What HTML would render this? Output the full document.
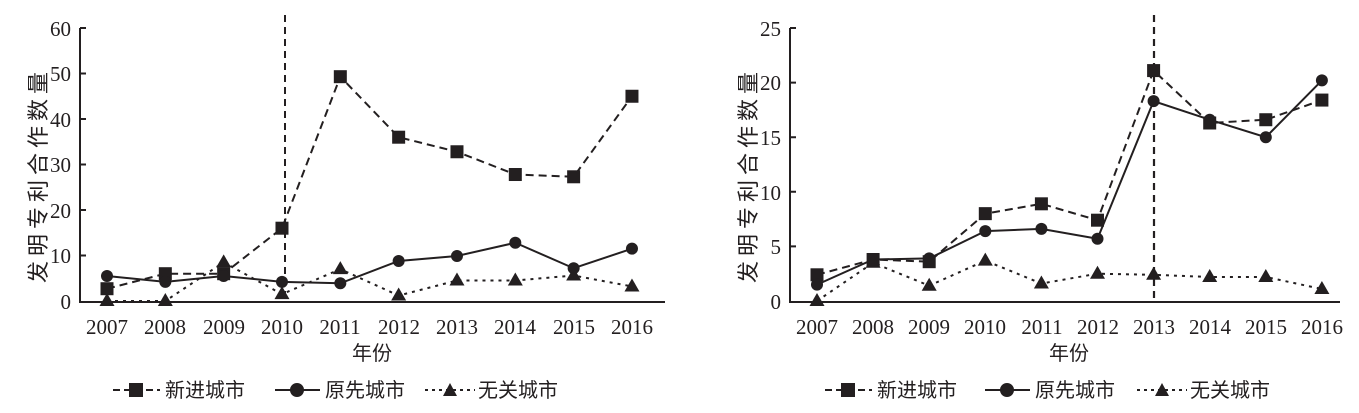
<!DOCTYPE html>
<html><head><meta charset="utf-8"><style>
body{margin:0;background:#fff}
svg text{font-family:"Liberation Serif","Noto Serif CJK SC",serif;fill:#231f20}
.cn{font-family:"Liberation Sans","Noto Sans CJK SC",sans-serif}
</style></head><body>
<svg id="s" width="1359" height="408" viewBox="0 0 1359 408" xmlns="http://www.w3.org/2000/svg">
<g stroke="#231f20" stroke-width="2" fill="none">
<path d="M80,28V302H665"/>
<path d="M790,28V302H1340"/>
<path d="M285,15V301" stroke-dasharray="7,5"/>
<path d="M1154,15V301" stroke-dasharray="7,5" stroke-width="2.2"/>
</g>
<g stroke="#231f20" stroke-width="2">
<path d="M80,28h6M80,73.5h6M80,119h6M80,164.5h6M80,210h6M80,255.5h6"/>
<path d="M790,28h6M790,82.6h6M790,137.2h6M790,191.8h6M790,246.4h6"/>
</g>
<g font-size="21" text-anchor="end">
<text x="71" y="36">60</text><text x="71" y="81">50</text><text x="71" y="127">40</text><text x="71" y="172">30</text><text x="71" y="218">20</text><text x="71" y="263">10</text><text x="71" y="309">0</text>
<text x="781" y="36">25</text><text x="781" y="90">20</text><text x="781" y="145">15</text><text x="781" y="200">10</text><text x="781" y="254">5</text><text x="781" y="309">0</text>
</g>
<g font-size="21" text-anchor="middle">
<text x="107" y="334">2007</text><text x="165" y="334">2008</text><text x="224" y="334">2009</text><text x="282" y="334">2010</text><text x="340" y="334">2011</text><text x="399" y="334">2012</text><text x="457" y="334">2013</text><text x="515" y="334">2014</text><text x="574" y="334">2015</text><text x="632" y="334">2016</text>
<text x="817" y="334">2007</text><text x="873" y="334">2008</text><text x="929" y="334">2009</text><text x="985" y="334">2010</text><text x="1042" y="334">2011</text><text x="1098" y="334">2012</text><text x="1154" y="334">2013</text><text x="1210" y="334">2014</text><text x="1266" y="334">2015</text><text x="1322" y="334">2016</text>
</g>
<g class="cn" font-size="20" text-anchor="middle">
<text class="cn" x="372" y="360">年份</text>
<text class="cn" x="1069" y="360">年份</text>
<text class="cn" font-size="22" letter-spacing="5" transform="translate(46,175) rotate(-90)">发明专利合作数量</text>
<text class="cn" font-size="22" letter-spacing="5" transform="translate(756,175) rotate(-90)">发明专利合作数量</text>
</g>
<g id="series"></g>
<g stroke="#231f20" stroke-width="2" fill="#231f20">
<path d="M113,390H160" stroke-dasharray="7,4"/><rect x="130" y="384" width="12" height="12"/>
<path d="M275,390H320"/><circle cx="297" cy="390" r="6"/>
<path d="M425,390H475" stroke-dasharray="3,4"/><path d="M450,383L457,396H443Z" stroke="none"/>
<path d="M825,390H872" stroke-dasharray="7,4"/><rect x="842" y="384" width="12" height="12"/>
<path d="M985,390H1030"/><circle cx="1007" cy="390" r="6"/>
<path d="M1137,390H1187" stroke-dasharray="3,4"/><path d="M1162,383L1169,396H1155Z" stroke="none"/>
</g>
<g font-size="20">
<text class="cn" x="165" y="397">新进城市</text><text class="cn" x="325" y="397">原先城市</text><text class="cn" x="478" y="397">无关城市</text>
<text class="cn" x="877" y="397">新进城市</text><text class="cn" x="1035" y="397">原先城市</text><text class="cn" x="1190" y="397">无关城市</text>
</g>
</svg>
<script>
var ns="http://www.w3.org/2000/svg",g=document.getElementById("series");
function draw(x0,dx,scale,data,dash,mk){
 var pts=data.map(function(v,i){return [x0+i*dx,301-v*scale]});
 var p=document.createElementNS(ns,"polyline");
 p.setAttribute("points",pts.map(function(a){return a.join(",")}).join(" "));
 p.setAttribute("fill","none");p.setAttribute("stroke","#231f20");p.setAttribute("stroke-width","2");
 if(dash)p.setAttribute("stroke-dasharray",dash);g.appendChild(p);
 pts.forEach(function(a){var e;
  if(mk=="s"){e=document.createElementNS(ns,"rect");e.setAttribute("x",a[0]-6.5);e.setAttribute("y",a[1]-6.5);e.setAttribute("width",13);e.setAttribute("height",13);}
  else if(mk=="c"){e=document.createElementNS(ns,"circle");e.setAttribute("cx",a[0]);e.setAttribute("cy",a[1]);e.setAttribute("r",6);}
  else{e=document.createElementNS(ns,"path");e.setAttribute("d","M"+a[0]+","+(a[1]-8)+"L"+(a[0]+7.5)+","+(a[1]+5)+"H"+(a[0]-7.5)+"Z");}
  e.setAttribute("fill","#231f20");g.appendChild(e);});
}
var ls=4.55,rs=10.92;
draw(107,58.33,ls,[2.7,6,6,16,49.3,36,32.8,27.8,27.3,45],"8,5","s");
draw(107,58.33,ls,[5.5,4.2,5.5,4.2,3.9,8.8,9.9,12.8,7.2,11.5],null,"c");
draw(107,58.33,ls,[0,0,8.5,1.5,7,1.2,4.5,4.5,5.6,3.2],"3,5","t");
draw(817,56.1,rs,[2.4,3.8,3.6,8,8.9,7.4,21.1,16.3,16.6,18.4],"8,5","s");
draw(817,56.1,rs,[1.5,3.8,3.9,6.4,6.6,5.7,18.3,16.6,15,20.2],null,"c");
draw(817,56.1,rs,[0,3.5,1.4,3.7,1.6,2.5,2.4,2.2,2.2,1.1],"3,5","t");
</script>
</body></html>
